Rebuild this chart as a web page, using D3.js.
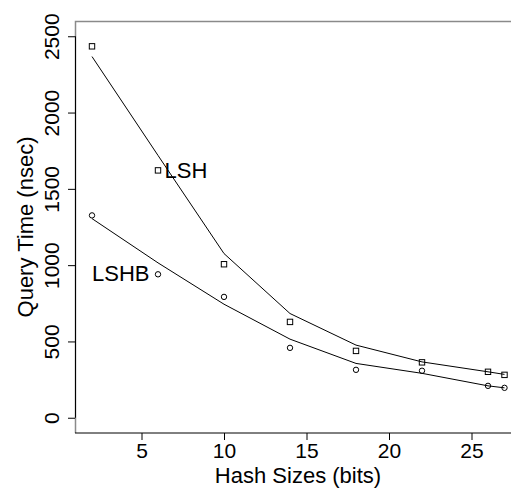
<!DOCTYPE html>
<html>
<head>
<meta charset="utf-8">
<script src="https://cdn.jsdelivr.net/npm/d3@7"></script>
<style>
  body { margin: 0; background: #fff; }
  svg { display: block; }
  svg text { font-family: "Liberation Sans", Arial, Helvetica, sans-serif; }
</style>
</head>
<body>
<svg></svg>
<script>
// Data
const hashSizes = [2, 6, 10, 14, 18, 22, 26, 27];
const lshTimes = [2434, 1621, 1006, 628, 438, 363, 301, 281];
const lshbTimes = [1326, 940, 792, 458, 314, 308, 209, 196];
// smoothed curves drawn through the points
const lshFit = [2367, 1719, 1076, 683, 476, 366, 301, 284];
const lshbFit = [1305, 1015, 744, 515, 356, 291, 209, 196];
const xTicks = [5, 10, 15, 20, 25];
const yTicks = [0, 500, 1000, 1500, 2000, 2500];

const W = 511, H = 490;
const margin = { top: 21, right: -10, bottom: 57, left: 75 };
const width = W - margin.left - margin.right,
  height = H - margin.top - margin.bottom;

const svg = d3.select("svg").attr("width", W).attr("height", H);
const g = svg.append("g").attr("transform", `translate(${margin.left},${margin.top})`);

const x = d3.scaleLinear().domain([1, 28]).range([0.5, width]);
const y = d3.scaleLinear().domain([-100, 2600]).range([height, 0]);

// frame (grey top / left)
g.append("path")
  .attr("d", `M${width},0.5H0.5V${height}`)
  .attr("fill", "none")
  .attr("stroke", "#8a8a8a")
  .attr("stroke-width", 1.5);

// X axis
const xAxis = g.append("g")
  .attr("transform", `translate(0,${height})`)
  .call(d3.axisBottom(x).tickValues(xTicks).tickSize(7).tickSizeOuter(0).tickPadding(3))
  .attr("font-family", null);
xAxis.select(".domain").remove();
xAxis.append("line")
  .attr("x1", 0).attr("x2", width)
  .attr("stroke", "#000");
xAxis.selectAll(".tick line").attr("stroke", "#000");
xAxis.selectAll("text").attr("font-size", 21).attr("fill", "#000");

// Y axis
const yAxis = g.append("g")
  .call(d3.axisLeft(y).tickValues(yTicks).tickFormat(d3.format("d")).tickSize(7).tickSizeOuter(0))
  .attr("font-family", null);
yAxis.select(".domain").remove();
yAxis.append("line")
  .attr("x1", 0.5).attr("x2", 0.5)
  .attr("y1", y(0)).attr("y2", y(2500))
  .attr("stroke", "#000");
yAxis.selectAll(".tick line").attr("stroke", "#000");
yAxis.selectAll("text")
  .attr("transform", "rotate(-90)")
  .attr("x", 0).attr("y", -16.5).attr("dy", 0)
  .attr("text-anchor", "middle")
  .attr("font-size", 21).attr("fill", "#000");

// Axis titles
svg.append("text")
  .attr("x", margin.left + width / 2)
  .attr("y", 483)
  .attr("text-anchor", "middle")
  .attr("font-size", 22)
  .text("Hash Sizes (bits)");

svg.append("text")
  .attr("transform", `translate(33,${margin.top + height / 2}) rotate(-90)`)
  .attr("text-anchor", "middle")
  .attr("font-size", 22)
  .text("Query Time (nsec)");

// Fitted lines
const line = d3.line().x((d) => x(d[0])).y((d) => y(d[1]));
[lshFit, lshbFit].forEach((fit) => {
  g.append("path")
    .datum(hashSizes.map((h, i) => [h, fit[i]]))
    .attr("d", line)
    .attr("fill", "none")
    .attr("stroke", "#000")
    .attr("stroke-width", 1);
});

// Points: squares for LSH, circles for LSHB
g.selectAll(".sq")
  .data(hashSizes.map((h, i) => [h, lshTimes[i]]))
  .enter()
  .append("rect")
  .attr("x", (d) => x(d[0]) - 2.7)
  .attr("y", (d) => y(d[1]) - 2.7)
  .attr("width", 5.4)
  .attr("height", 5.4)
  .attr("fill", "none")
  .attr("stroke", "#000");

g.selectAll(".ci")
  .data(hashSizes.map((h, i) => [h, lshbTimes[i]]))
  .enter()
  .append("circle")
  .attr("cx", (d) => x(d[0]))
  .attr("cy", (d) => y(d[1]))
  .attr("r", 2.7)
  .attr("fill", "none")
  .attr("stroke", "#000");

// Series labels next to the second point
g.append("text")
  .attr("x", x(hashSizes[1]) + 6.5)
  .attr("y", y(lshTimes[1]))
  .attr("dy", "0.36em")
  .attr("font-size", 22)
  .text("LSH");

g.append("text")
  .attr("x", x(hashSizes[1]) - 8.5)
  .attr("y", y(lshbTimes[1]))
  .attr("dy", "0.3em")
  .attr("text-anchor", "end")
  .attr("font-size", 22)
  .text("LSHB");
</script>
</body>
</html>
